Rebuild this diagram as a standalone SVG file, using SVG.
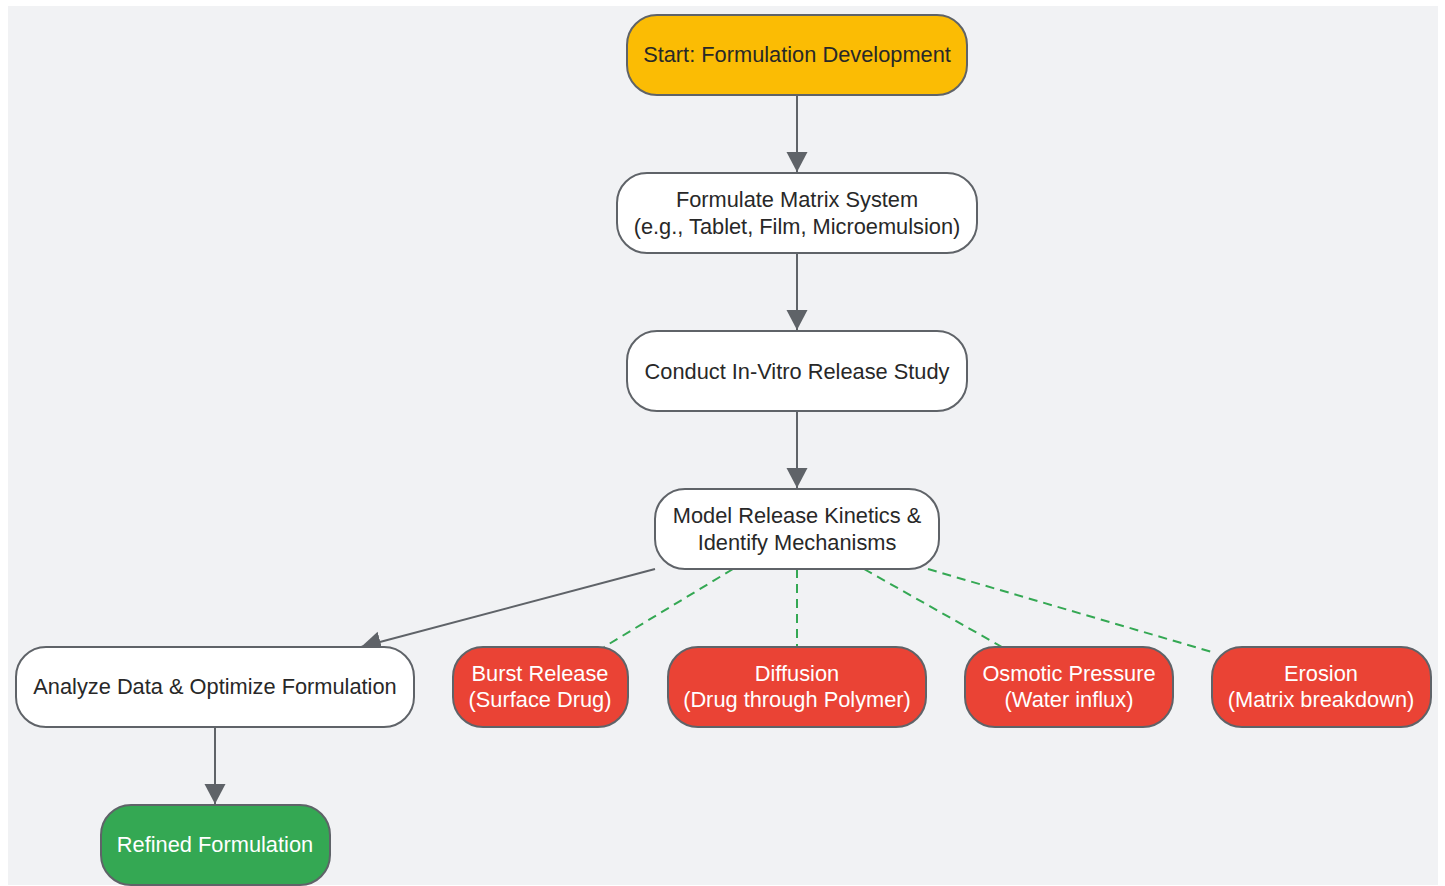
<svg xmlns="http://www.w3.org/2000/svg" width="1445" height="886" viewBox="0 0 1445 886">
<defs>
<style>
.n{stroke:#5f6368;stroke-width:2}
.w{fill:#ffffff}
.y{fill:#fbbc04}
.r{fill:#ea4335}
.g{fill:#34a853}
text{font-family:"Liberation Sans",Arial,sans-serif;font-size:21.8px;text-anchor:middle;dominant-baseline:central}
.d{fill:#282828}
.l{fill:#ffffff}
.e{stroke:#5f6368;stroke-width:2;fill:none}
.s{stroke:#34a853;stroke-width:2;fill:none;stroke-dasharray:9,6}
</style>
<marker id="a" viewBox="0 0 20 22" refX="20" refY="11" markerWidth="20" markerHeight="22" markerUnits="userSpaceOnUse" orient="auto">
<path d="M0,0.5 L20,11 L0,21.5 Z" fill="#5f6368"/>
</marker>
</defs>
<rect x="8" y="6" width="1430" height="879" fill="#f1f2f4"/>
<g id="edges">
<line class="e" x1="797" y1="95" x2="797" y2="172" marker-end="url(#a)"/>
<line class="e" x1="797" y1="253" x2="797" y2="330" marker-end="url(#a)"/>
<line class="e" x1="797" y1="411" x2="797" y2="488" marker-end="url(#a)"/>
<line class="e" x1="655" y1="569" x2="361" y2="647" marker-end="url(#a)"/>
<line class="e" x1="215" y1="727" x2="215" y2="804" marker-end="url(#a)"/>
<line class="s" x1="733" y1="569" x2="604" y2="647"/>
<line class="s" x1="797" y1="569" x2="797" y2="647"/>
<line class="s" x1="864" y1="569" x2="1002" y2="647"/>
<line class="s" x1="928" y1="569" x2="1212" y2="652"/>
</g>
<g id="start"><rect class="n y" x="627" y="15" width="340" height="80" rx="30"/><text class="d" x="797" y="54">Start: Formulation Development</text></g>
<g id="formulate"><rect class="n w" x="617" y="173" width="360" height="80" rx="30"/><text class="d" x="797" y="199">Formulate Matrix System</text><text class="d" x="797" y="226">(e.g., Tablet, Film, Microemulsion)</text></g>
<g id="conduct"><rect class="n w" x="627" y="331" width="340" height="80" rx="30"/><text class="d" x="797" y="371">Conduct In-Vitro Release Study</text></g>
<g id="model"><rect class="n w" x="655" y="489" width="284" height="80" rx="30"/><text class="d" x="797" y="515">Model Release Kinetics &amp;</text><text class="d" x="797" y="542">Identify Mechanisms</text></g>
<g id="analyze"><rect class="n w" x="16" y="647" width="398" height="80" rx="30"/><text class="d" x="215" y="686">Analyze Data &amp; Optimize Formulation</text></g>
<g id="burst"><rect class="n r" x="453" y="647" width="175" height="80" rx="30"/><text class="l" x="540" y="673">Burst Release</text><text class="l" x="540" y="699">(Surface Drug)</text></g>
<g id="diffusion"><rect class="n r" x="668" y="647" width="258" height="80" rx="30"/><text class="l" x="797" y="673">Diffusion</text><text class="l" x="797" y="699">(Drug through Polymer)</text></g>
<g id="osmotic"><rect class="n r" x="965" y="647" width="208" height="80" rx="30"/><text class="l" x="1069" y="673">Osmotic Pressure</text><text class="l" x="1069" y="699">(Water influx)</text></g>
<g id="erosion"><rect class="n r" x="1212" y="647" width="219" height="80" rx="30"/><text class="l" x="1321" y="673">Erosion</text><text class="l" x="1321" y="699">(Matrix breakdown)</text></g>
<g id="refined"><rect class="n g" x="101" y="805" width="229" height="80" rx="30"/><text class="l" x="215" y="844">Refined Formulation</text></g>
</svg>
